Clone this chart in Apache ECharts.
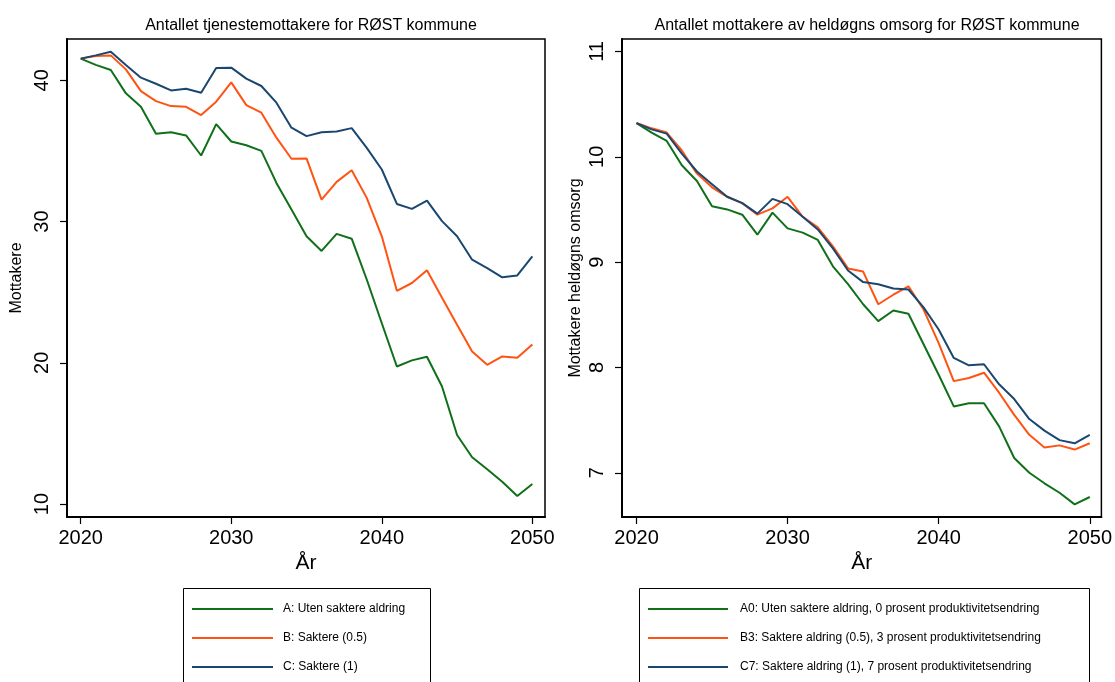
<!DOCTYPE html>
<html>
<head>
<meta charset="utf-8">
<script src="https://cdn.jsdelivr.net/npm/echarts@6/dist/echarts.min.js"></script>
<style>
html,body{margin:0;padding:0;background:#fff;}
#c{width:1115px;height:682px;}
</style>
</head>
<body>
<div id="c"></div>
<script>
// ---- data ----
const years = [2020,2021,2022,2023,2024,2025,2026,2027,2028,2029,2030,2031,2032,2033,2034,2035,2036,2037,2038,2039,2040,2041,2042,2043,2044,2045,2046,2047,2048,2049,2050];

const leftTitle = "Antallet tjenestemottakere for RØST kommune";
const rightTitle = "Antallet mottakere av heldøgns omsorg for RØST kommune";
const xTicks = [2020, 2030, 2040, 2050];
const leftYTicks = [10, 20, 30, 40];
const rightYTicks = [7, 8, 9, 10, 11];

const leftNames = ["A: Uten saktere aldring", "B: Saktere (0.5)", "C: Saktere (1)"];
const leftA = [41.54,41.10,40.73,39.08,38.13,36.22,36.33,36.10,34.68,36.90,35.67,35.41,35.01,32.74,30.85,28.96,27.92,29.13,28.79,25.90,22.80,19.74,20.17,20.43,18.32,14.89,13.31,12.46,11.58,10.57,11.42];
const leftB = [41.54,41.73,41.77,40.78,39.24,38.53,38.18,38.13,37.54,38.49,39.86,38.25,37.71,35.94,34.45,34.47,31.56,32.81,33.64,31.68,28.96,25.10,25.65,26.55,24.60,22.70,20.80,19.86,20.45,20.35,21.30];
const leftC = [41.54,41.77,42.03,41.09,40.19,39.76,39.29,39.41,39.12,40.87,40.90,40.12,39.60,38.42,36.65,36.05,36.33,36.38,36.62,35.22,33.69,31.25,30.90,31.49,30.03,28.96,27.30,26.71,26.05,26.19,27.54];

const rightNames = ["A0: Uten saktere aldring, 0 prosent produktivitetsendring", "B3: Saktere aldring (0.5), 3 prosent produktivitetsendring", "C7: Saktere aldring (1), 7 prosent produktivitetsendring"];
const rightA = [10.32,10.23,10.15,9.92,9.77,9.53,9.50,9.45,9.26,9.47,9.32,9.28,9.21,8.96,8.79,8.60,8.44,8.54,8.51,8.22,7.93,7.63,7.66,7.66,7.44,7.14,7.00,6.90,6.81,6.70,6.77];
const rightB = [10.32,10.27,10.23,10.06,9.84,9.71,9.62,9.56,9.45,9.51,9.62,9.43,9.33,9.15,8.94,8.91,8.60,8.69,8.77,8.55,8.23,7.87,7.90,7.95,7.76,7.55,7.36,7.24,7.26,7.22,7.28];
const rightC = [10.32,10.26,10.22,10.03,9.86,9.74,9.62,9.56,9.46,9.60,9.55,9.43,9.31,9.13,8.92,8.81,8.79,8.75,8.74,8.57,8.36,8.09,8.02,8.03,7.84,7.70,7.51,7.40,7.31,7.28,7.36];

// ---- styles ----
const colors = ["#10701a", "#ff5314", "#1a476f"];
const FONT = "Liberation Sans, Arial, Helvetica, sans-serif";

function pairs(vals){ return years.map((y,i)=>[y, vals[i]]); }

function xAxis(gi, min, max){
  return {
    type:'value', gridIndex:gi, min:min, max:max,
    name:'År', nameLocation:'middle', nameGap:33,
    nameTextStyle:{fontFamily:FONT, fontSize:21, color:'#000'},
    axisLine:{show:true, onZero:false, lineStyle:{color:'#000', width:2}},
    axisTick:{show:true, length:7, customValues:xTicks, lineStyle:{color:'#000', width:1.2}},
    axisLabel:{customValues:xTicks, formatter:(v)=>String(v), fontFamily:FONT, fontSize:20, color:'#000', margin:11},
    splitLine:{show:false}
  };
}
function yAxis(gi, min, max, ticks, name, nameGap){
  return {
    type:'value', gridIndex:gi, min:min, max:max,
    name:name, nameLocation:'middle', nameGap:nameGap, nameRotate:90,
    nameTextStyle:{fontFamily:FONT, fontSize:16, color:'#000'},
    axisLine:{show:true, onZero:false, lineStyle:{color:'#000', width:2}},
    axisTick:{show:true, length:7, customValues:ticks, lineStyle:{color:'#000', width:1.2}},
    axisLabel:{customValues:ticks, formatter:(v)=>String(v), rotate:90, fontFamily:FONT, fontSize:20, color:'#000', margin:15},
    splitLine:{show:false}
  };
}
function line(name, vals, ci, gi){
  return {
    type:'line', name:name, xAxisIndex:gi, yAxisIndex:gi,
    data:pairs(vals), symbol:'none', smooth:false, animation:false,
    lineStyle:{color:colors[ci], width:2}, itemStyle:{color:colors[ci]}
  };
}

const chart = echarts.init(document.getElementById('c'), null, {renderer:'canvas'});
chart.setOption({
  backgroundColor:'#fff',
  animation:false,
  title:[
    {text:leftTitle, left:306, top:13, textAlign:'center',
     textStyle:{fontFamily:FONT, fontSize:16, fontWeight:'normal', color:'#000'}},
    {text:rightTitle, left:862, top:13, textAlign:'center',
     textStyle:{fontFamily:FONT, fontSize:16, fontWeight:'normal', color:'#000'}}
  ],
  grid:[
    {left:67, right:570, top:39, bottom:165, show:true, borderColor:'#000', borderWidth:1.5, backgroundColor:'#fff'},
    {left:622, right:13, top:39, bottom:165, show:true, borderColor:'#000', borderWidth:1.5, backgroundColor:'#fff'}
  ],
  xAxis:[ xAxis(0, 2019.09, 2050.84), xAxis(1, 2019.04, 2050.77) ],
  yAxis:[ yAxis(0, 9.08, 42.93, leftYTicks, 'Mottakere', 42),
          yAxis(1, 6.58, 11.118, rightYTicks, 'Mottakere heldøgns omsorg', 38) ],
  graphic:[
    {type:'rect', shape:{x:183.5, y:588.5, width:247, height:120}, style:{fill:'none', stroke:'#000', lineWidth:1}, z:0},
    {type:'rect', shape:{x:639.5, y:588.5, width:450, height:120}, style:{fill:'none', stroke:'#000', lineWidth:1}, z:0}
  ],
  legend:[
    {data:leftNames, orient:'vertical', left:183, top:589, itemWidth:81, itemHeight:2, itemGap:15, icon:'rect',
     padding:[13, 5, 0, 9], textStyle:{fontFamily:FONT, fontSize:12, color:'#000', lineHeight:14, padding:[0,0,0,5]}},
    {data:rightNames, orient:'vertical', left:639, top:589, itemWidth:80, itemHeight:2, itemGap:15, icon:'rect',
     padding:[13, 5, 0, 9], textStyle:{fontFamily:FONT, fontSize:12, color:'#000', lineHeight:14, padding:[0,0,0,7]}}
  ],
  series:[
    line(leftNames[0], leftA, 0, 0),
    line(leftNames[1], leftB, 1, 0),
    line(leftNames[2], leftC, 2, 0),
    line(rightNames[0], rightA, 0, 1),
    line(rightNames[1], rightB, 1, 1),
    line(rightNames[2], rightC, 2, 1)
  ]
});
</script>
</body>
</html>
